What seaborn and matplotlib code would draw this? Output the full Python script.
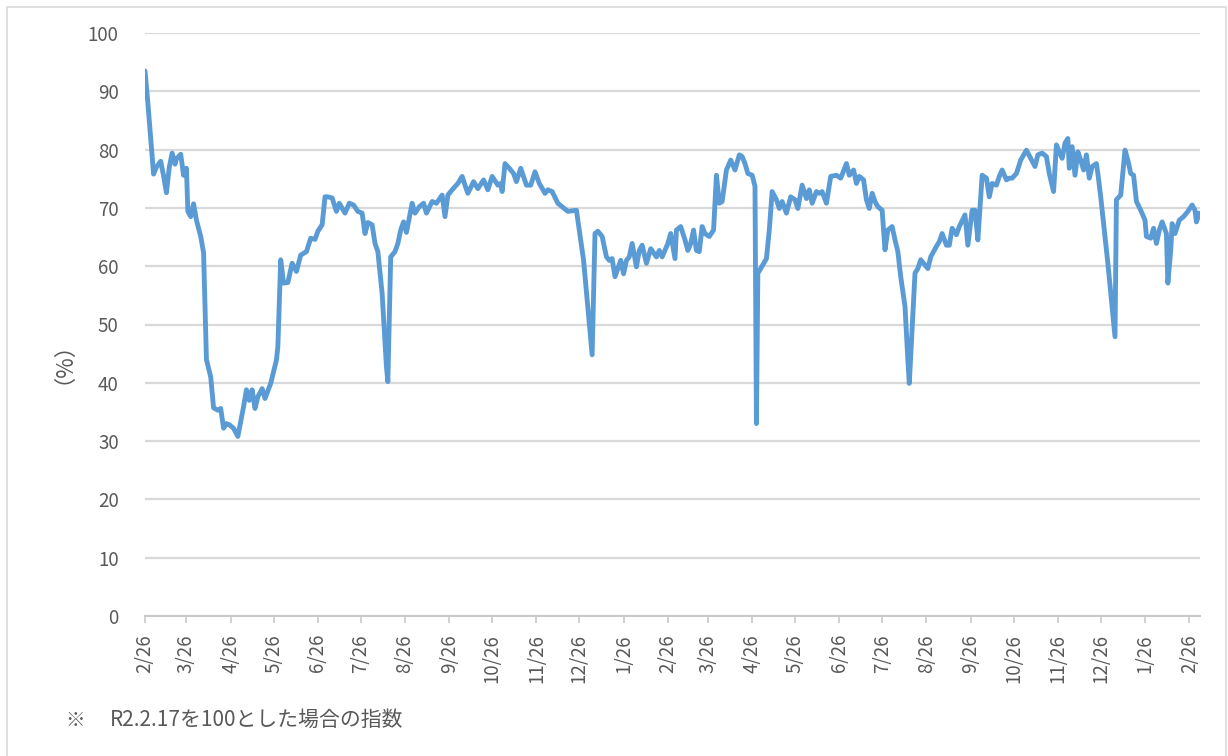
import pandas as pd
import matplotlib.pyplot as plt
import matplotlib.patches as patches
import seaborn as sns

# 起点日 (2020-02-26) からの経過日数と指数 (R2.2.17 = 100)
start = "2020-02-26"
days = [
    0, 2, 6, 8, 11, 13, 15, 17, 19, 21, 22, 25, 27, 29,
    30, 32, 34, 36, 39, 41, 43, 46, 48, 51, 53, 55, 57, 59,
    62, 65, 69, 71, 73, 75, 77, 79, 82, 84, 88, 92, 93,
    95, 97, 100, 103, 106, 109, 113, 116, 119, 121, 124,
    126, 128, 131, 134, 136, 140, 143, 146, 149, 152, 154,
    156, 159, 161, 163, 166, 169, 170, 172, 175, 177, 179, 181, 183,
    187, 189, 192, 195, 197, 201, 204, 208, 210, 212, 215,
    219, 222, 224, 226, 230, 233, 237, 240, 243, 247, 249, 250,
    252, 255, 258, 260, 263, 267, 270, 273, 276, 280, 282, 285,
    289, 292, 296, 302, 307, 313, 315, 317, 320, 323, 325, 327,
    329, 331, 333, 335, 337, 339, 341, 344, 346, 348, 351, 354,
    358, 360, 362, 366, 368, 371, 372, 375, 378, 380, 382, 384,
    386, 388, 390, 392, 395, 398, 400, 402, 404, 407, 410, 413,
    416, 418, 420, 422, 425, 427, 428, 429, 431, 435, 437, 439,
    442, 444, 446, 449, 452, 455, 457, 460, 463, 465, 467, 470,
    472, 474, 477, 480, 484, 487, 491, 493, 496, 498, 500, 503,
    505, 507, 509, 511, 513, 516, 518, 520, 523, 525, 527, 529,
    532, 534, 535, 539, 541, 543, 546, 548, 550, 554, 556, 558,
    561, 563, 565, 568, 570, 574, 576, 579, 581, 583, 586, 589,
    591, 593, 596, 598, 600, 603, 605, 607, 610, 613, 617, 620,
    623, 625, 628, 631, 633, 636, 638, 640, 642, 644, 646, 647,
    649, 651, 653, 655, 657, 659, 660, 661, 663, 666, 667, 669,
    674, 679, 680, 683, 686, 688, 690, 692, 694, 697, 700, 701,
    704, 706, 708, 710, 712, 715, 716, 718, 719, 721, 724, 727,
    730, 733, 735, 736, 738,
]
values = [
    93.5, 88.0, 75.8, 77.0, 78.0, 75.5, 72.6, 77.0, 79.4, 77.5, 78.4, 79.2, 75.6, 76.8,
    69.4, 68.5, 70.7, 67.9, 65.1, 62.3, 44.0, 41.0, 35.7, 35.3, 35.6, 32.2, 33.0, 32.8,
    32.2, 30.8, 35.9, 38.8, 37.0, 38.8, 35.6, 37.6, 39.0, 37.3, 39.9, 43.9, 46.2,
    61.1, 57.1, 57.2, 60.5, 59.1, 61.9, 62.5, 64.8, 64.6, 66.0, 67.1,
    71.9, 71.9, 71.7, 69.4, 70.8, 69.1, 70.8, 70.5, 69.4, 69.1, 65.6,
    67.5, 67.1, 63.9, 62.5, 55.3, 42.8, 40.2, 61.6, 62.5, 63.9, 66.2, 67.6, 65.8,
    70.8, 69.1, 70.2, 70.8, 69.1, 71.1, 70.8, 72.2, 68.5, 72.2, 73.1,
    74.2, 75.4, 73.9, 72.5, 74.5, 73.3, 74.8, 73.1, 75.4, 73.9, 74.2, 72.8,
    77.6, 76.8, 75.9, 74.5, 76.8, 73.9, 73.9, 76.2, 74.2, 72.5, 73.1, 72.8,
    70.8, 70.2, 69.4, 69.6, 61.0, 44.8, 65.6, 66.0, 65.1, 61.6, 61.0, 61.3,
    58.2, 59.6, 61.0, 58.7, 61.0, 61.6, 63.9, 59.9, 62.7, 63.6, 60.5, 63.0,
    61.6, 62.7, 61.6, 63.9, 65.6, 61.3, 66.2, 66.8, 64.5, 62.7, 63.9, 66.2,
    62.7, 62.5, 66.8, 65.6, 65.1, 66.2, 75.6, 70.8, 71.1, 76.5, 78.2, 76.5,
    79.1, 78.8, 77.6, 75.9, 75.6, 73.7, 33.0, 58.8, 59.6, 61.3, 66.2, 72.8,
    71.4, 69.9, 71.1, 69.1, 71.9, 71.4, 69.9, 73.9, 71.6, 73.1, 70.8, 72.8,
    72.5, 72.8, 70.8, 75.4, 75.6, 75.1, 77.6, 75.6, 76.5, 74.2, 75.4, 74.8,
    71.4, 69.9, 72.5, 71.1, 70.2, 69.6, 62.8, 66.2, 66.8, 64.5, 62.5, 58.2,
    53.1, 43.9, 39.9, 58.8, 59.6, 61.1, 60.2, 59.6, 61.6, 63.4, 64.2, 65.6,
    63.6, 63.6, 66.5, 65.4, 66.8, 68.8, 63.6, 69.6, 69.6, 64.5, 75.6, 75.1,
    71.9, 74.2, 73.9, 75.4, 76.5, 74.8, 75.1, 75.1, 75.9, 78.2, 79.9, 78.5,
    77.1, 79.1, 79.4, 78.8, 75.9, 72.8, 80.8, 79.6, 78.5, 81.1, 81.9, 76.8,
    80.5, 75.6, 79.6, 78.2, 76.5, 79.1, 77.1, 75.1, 77.1, 77.6, 75.9, 71.9,
    60.5, 47.9, 71.4, 72.2, 79.9, 78.2, 75.9, 75.6, 71.1, 69.6, 67.9, 65.1,
    64.8, 66.5, 63.9, 66.2, 67.6, 65.6, 57.1, 62.7, 67.3, 65.6, 67.9, 68.5,
    69.4, 70.5, 69.6, 67.6, 69.1,
]
tick_labels = [
    "2/26", "3/26", "4/26", "5/26", "6/26", "7/26", "8/26", "9/26",
    "10/26", "11/26", "12/26", "1/26",
    "2/26", "3/26", "4/26", "5/26", "6/26", "7/26", "8/26", "9/26",
    "10/26", "11/26", "12/26", "1/26", "2/26",
]
y_ticks = list(range(0, 101, 10))

t0 = pd.Timestamp(start)
df = pd.DataFrame({"date": t0 + pd.to_timedelta(days, unit="D"), "index": values})
tick_dates = pd.date_range(start, periods=len(tick_labels), freq=pd.DateOffset(months=1))

sns.set_theme(style="white")
plt.rcParams["font.family"] = ["Noto Sans CJK JP", "DejaVu Sans"]

text_color = "#595959"
W, H = 1228, 756
fig = plt.figure(figsize=(W / 100, H / 100), dpi=100)
ax = fig.add_axes([145 / W, 140 / H, 1055 / W, 583 / H])

sns.lineplot(data=df, x="date", y="index", color="#5B9BD5", linewidth=3.5, ax=ax)
for line in ax.get_lines():
    line.set_solid_joinstyle("round")
    line.set_solid_capstyle("round")

ax.set_ylim(0, 100)
ax.set_yticks(y_ticks)
ax.set_xlim(t0, t0 + pd.Timedelta(days=738.5))
ax.set_xticks(tick_dates)
ax.set_xticklabels(tick_labels, rotation=90)
ax.set_xlabel("")
ax.set_ylabel("")

ax.yaxis.grid(True, color="#d9d9d9", linewidth=1.6)
ax.set_axisbelow(True)
for side in ["left", "right", "top"]:
    ax.spines[side].set_visible(False)
ax.spines["bottom"].set_color("#c8c8c8")
ax.spines["bottom"].set_linewidth(1.4)

ax.tick_params(axis="x", bottom=True, length=5, width=1.2, color="#c8c8c8",
               pad=8, labelsize=13.5, labelcolor=text_color)
ax.tick_params(axis="y", length=0, pad=19, labelsize=13.5, labelcolor=text_color)

fig.text(52 / W, 1 - 352 / H, "（%）", rotation=90, ha="center", va="center",
         fontsize=16, color=text_color)
fig.text(75 / W, 1 - 720 / H, "※", ha="center", va="center",
         fontsize=14, color=text_color)
fig.text(110 / W, 1 - 720 / H, "R2.2.17を100とした場合の指数", ha="left", va="center",
         fontsize=15, color=text_color)

# 外枠
fig.patches.append(patches.Rectangle((7 / W, -0.01), (1226 - 7) / W, (H - 7) / H + 0.01,
                                     transform=fig.transFigure, fill=False,
                                     edgecolor="#d9d9d9", linewidth=1.2))

fig.savefig("out.png", dpi=100)
plt.close(fig)
